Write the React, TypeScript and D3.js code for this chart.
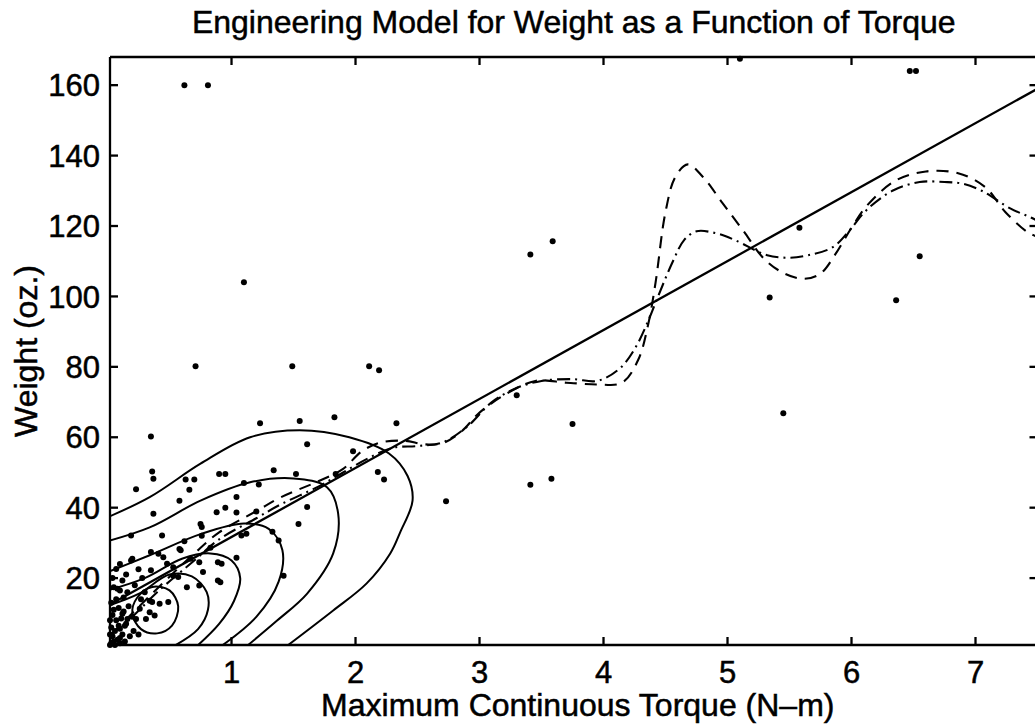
import React from "react";
import * as d3 from "d3";

const W = 1035;
const H = 728;

const titleText = "Engineering Model for Weight as a Function of Torque";
const xLabel = "Maximum Continuous Torque (N\u2013m)";
const yLabel = "Weight (oz.)";

const xTicks = [1, 2, 3, 4, 5, 6, 7];
const yTicks = [20, 40, 60, 80, 100, 120, 140, 160];

// linear engineering model
const linearFit: [number, number][] = [
  [0.02, 12.5],
  [7.5, 159],
];

// dashed nonparametric fit
const dashedFit: [number, number][] = [
  [0.03, 4], [0.2, 10], [0.4, 17], [0.7, 27], [0.9, 33], [1.2, 39], [1.4, 43], [1.7, 47.5],
  [1.9, 51], [2.05, 56], [2.2, 58.5], [2.4, 59], [2.55, 58], [2.7, 58.3], [2.85, 61.5],
  [3.0, 67], [3.2, 72], [3.45, 76], [3.7, 75.5], [3.95, 75], [4.15, 75.5], [4.28, 82],
  [4.36, 92], [4.42, 104], [4.5, 124], [4.58, 134], [4.68, 137.5], [4.8, 134], [4.96, 126.5],
  [5.12, 119], [5.3, 110.5], [5.46, 106.5], [5.62, 105], [5.75, 106.5], [5.87, 112],
  [6.0, 119.5], [6.13, 126], [6.36, 133], [6.6, 135.5], [6.86, 135], [7.08, 131],
  [7.24, 124], [7.43, 118], [7.5, 117],
];

// dash-dot nonparametric fit
const dashDotFit: [number, number][] = [
  [0.03, 4], [0.2, 9], [0.4, 16], [0.7, 25], [0.9, 31], [1.2, 37], [1.4, 41], [1.7, 46],
  [1.9, 50], [2.1, 54], [2.3, 57], [2.5, 57.5], [2.7, 58.5], [2.9, 63], [3.1, 70], [3.3, 74],
  [3.5, 76], [3.75, 76.5], [3.95, 76], [4.13, 79.5], [4.25, 85], [4.36, 93], [4.44, 100],
  [4.56, 110], [4.65, 116], [4.75, 118.5], [4.9, 118], [5.06, 116], [5.32, 111.7], [5.5, 111],
  [5.65, 111.7], [5.85, 114], [5.99, 119], [6.12, 124.5], [6.33, 130], [6.55, 132.5],
  [6.75, 132.5], [6.9, 132], [7.05, 130], [7.28, 125], [7.44, 122.5], [7.5, 121.5],
];

// density contours (open, cut by the axes)
const contour1: [number, number][] = [
  [-0.05, 36.5], [0.34, 43], [0.75, 52.5], [1.15, 60], [1.55, 62], [1.95, 60], [2.27, 55.4],
  [2.42, 49], [2.46, 42], [2.36, 33], [2.28, 27], [2.09, 18.5], [1.82, 10.8], [1.42, 0],
];
const contour2: [number, number][] = [
  [-0.05, 30], [0.34, 34.4], [0.75, 42], [1.15, 47.2], [1.5, 48.3], [1.77, 45.8], [1.86, 38.3],
  [1.82, 27], [1.61, 15.6], [1.37, 8], [1.1, 0],
];
const contour3: [number, number][] = [
  [-0.05, 21], [0.34, 26.5], [0.75, 32.5], [1.1, 35.5], [1.3, 34], [1.41, 28], [1.38, 19],
  [1.2, 9], [0.89, 0],
];
const contour4: [number, number][] = [
  [-0.05, 16], [0.3, 20], [0.6, 25.5], [0.83, 27], [1.0, 25], [1.07, 20], [1.02, 13.5],
  [0.9, 7], [0.7, 0],
];
const contour5: [number, number][] = [
  [-0.05, 11.5], [0.25, 15.5], [0.5, 21], [0.68, 20.5], [0.8, 16], [0.81, 11], [0.73, 5.5],
  [0.5, 0],
];
// innermost closed contour
const contour6: [number, number][] = [
  [0.2, 10], [0.24, 14.5], [0.36, 17.5], [0.5, 16.5], [0.57, 12], [0.52, 6.5], [0.4, 4.3],
  [0.27, 5.5],
];

// observed motors (torque, weight)
const motors: [number, number][] = [
  [0.62, 160], [0.81, 160], [5.1, 167.5], [6.47, 164], [6.52, 164],
  [1.1, 104], [3.41, 111.9], [3.59, 115.7], [5.34, 99.7], [5.58, 119.5], [6.55, 111.4],
  [6.36, 98.9], [5.45, 66.8], [3.41, 46.5], [3.58, 48.2], [3.75, 63.8], [3.3, 71.9],
  [2.73, 41.8], [2.33, 64],
  [0.71, 80.2], [1.49, 80.2], [2.11, 80.2], [2.19, 79],
  [1.23, 64], [1.55, 64.6], [1.83, 65.7], [0.35, 60.2], [1.61, 58], [1.98, 56],
  [0.36, 50.3], [0.37, 48.2], [0.63, 48], [0.7, 48], [0.9, 49.6], [0.95, 49.6],
  [1.34, 50.6], [1.52, 49.6], [1.84, 49.6], [2.18, 50.1], [2.23, 48],
  [0.23, 45.2], [0.66, 45.1], [0.58, 42], [1.1, 47], [1.22, 46.6], [1.04, 43],
  [0.88, 38.7], [0.95, 40], [1.04, 38.6], [1.2, 38.9], [1.61, 40.2], [1.54, 35.4],
  [0.37, 38.3], [0.75, 35.4], [0.76, 34.5], [1.33, 33.2], [1.38, 30.7], [1.42, 20.7],
  [1.04, 25.8], [1.12, 32.6], [1.08, 32.1], [0.19, 32.1], [0.44, 32.1], [0.62, 30.5],
  [0.76, 32], [0.58, 28.3], [0.59, 27.9], [0.83, 28.6], [0.89, 24.5], [0.92, 24.1],
  [0.74, 24.5], [0.67, 25.5], [0.53, 23.1], [0.35, 27.4], [0.41, 26.9], [0.45, 25.9],
  [0.19, 25], [0.2, 25.5], [0.07, 22.6], [0.35, 22.2], [0.48, 24.1], [0.53, 20.7],
  [0.57, 20.3], [0.77, 21.7], [0.89, 19.3], [0.91, 18.8], [0.74, 17.9], [0.64, 17.4],
  [0.12, 19.3], [0.05, 17.4], [0.1, 16.5], [0.34, 13.6], [0.36, 13.2], [0.42, 12.7],
  [0.49, 13.2], [0.26, 11.3], [0.34, 10.3], [0.38, 9.4], [0.23, 8.4], [0.31, 8.4],
  [0.12, 9.9], [0.16, 8.4], [0.1, 5.6], [0.14, 6.5],
  [0.03, 1.5], [0.05, 2], [0.04, 3.5], [0.08, 2.5], [0.1, 3], [0.06, 5], [0.03, 6],
  [0.09, 6.5], [0.12, 4], [0.07, 8], [0.04, 9.5], [0.11, 8.5], [0.15, 7], [0.05, 11],
  [0.09, 11.5], [0.13, 10.5], [0.03, 13], [0.07, 14], [0.17, 12], [0.2, 9], [0.02, 1],
  [0.06, 1], [0.1, 1.5], [0.14, 2], [0.18, 3.5], [0.21, 5], [0.25, 4], [0.02, 4],
  [0.02, 8], [0.13, 14.5], [0.16, 16], [0.08, 17], [0.27, 14], [0.22, 18], [0.15, 21],
  [0.28, 20], [0.3, 16], [0.04, 20], [0.1, 24], [0.25, 22.5],
];

const FONT = "'Liberation Sans', Arial, Helvetica, sans-serif";

export default function App() {
  const left = 110;
  const right = 1037.5;
  const top = 57;
  const bottom = 645;

  const x = d3.scaleLinear().domain([0.02, 7.5]).range([left, right]);
  const y = d3.scaleLinear().domain([1, 168]).range([bottom, top]);

  const smooth = d3
    .line<[number, number]>()
    .x((d) => x(d[0]))
    .y((d) => y(d[1]))
    .curve(d3.curveCatmullRom.alpha(0.5));
  const straight = d3
    .line<[number, number]>()
    .x((d) => x(d[0]))
    .y((d) => y(d[1]));
  const closed = d3
    .line<[number, number]>()
    .x((d) => x(d[0]))
    .y((d) => y(d[1]))
    .curve(d3.curveCatmullRomClosed.alpha(0.5));

  const contours = [contour1, contour2, contour3, contour4, contour5];
  const tick = 8;
  const textStroke = { stroke: "#000", strokeWidth: 0.5 };

  return (
    <svg
      width={W}
      height={H}
      style={{ position: "absolute", left: 0, top: 0, background: "#fff" }}
      fontFamily={FONT}
    >
      <defs>
        <clipPath id="plot">
          <rect x={left} y={top} width={right - left} height={bottom - top} />
        </clipPath>
      </defs>
      <rect x={0} y={0} width={W} height={H} fill="#fff" />

      <g clipPath="url(#plot)" fill="none" stroke="#000" strokeLinejoin="round">
        {contours.map((c, i) => (
          <path key={i} d={smooth(c) || ""} strokeWidth={2} />
        ))}
        <path d={closed(contour6) || ""} strokeWidth={2} />
        <path d={straight(linearFit) || ""} strokeWidth={2.3} />
        <path d={smooth(dashedFit) || ""} strokeWidth={2.1} strokeDasharray="12 8" />
        <path d={smooth(dashDotFit) || ""} strokeWidth={2.1} strokeDasharray="13 5 2 5" />
      </g>

      <g fill="#000">
        {motors.map((d, i) => (
          <circle key={i} cx={x(d[0])} cy={y(d[1])} r={3} />
        ))}
      </g>

      {/* axes box */}
      <g stroke="#000" strokeWidth={2.3} fill="none">
        <line x1={left} y1={top} x2={right} y2={top} />
        <line x1={left} y1={bottom} x2={right} y2={bottom} />
        <line x1={left} y1={top} x2={left} y2={bottom} />
        <line x1={right} y1={top} x2={right} y2={bottom} />
        {xTicks.map((t) => (
          <g key={"xt" + t}>
            <line x1={x(t)} x2={x(t)} y1={bottom} y2={bottom - tick} />
            <line x1={x(t)} x2={x(t)} y1={top} y2={top + tick} />
          </g>
        ))}
        {yTicks.map((t) => (
          <g key={"yt" + t}>
            <line x1={left} x2={left + tick} y1={y(t)} y2={y(t)} />
            <line x1={right} x2={right - tick} y1={y(t)} y2={y(t)} />
          </g>
        ))}
      </g>

      <g fontSize={31} fill="#000" {...textStroke}>
        {xTicks.map((t) => (
          <text key={"xl" + t} x={x(t)} y={683} textAnchor="middle">
            {t}
          </text>
        ))}
        {yTicks.map((t) => (
          <text key={"yl" + t} x={left - 10} y={y(t)} dy="0.36em" textAnchor="end">
            {t}
          </text>
        ))}
      </g>

      <text
        x={(left + right) / 2}
        y={33}
        fontSize={32}
        textAnchor="middle"
        fill="#000"
        {...textStroke}
      >
        {titleText}
      </text>
      <text
        x={(left + right) / 2 + 4}
        y={716}
        fontSize={32}
        textAnchor="middle"
        fill="#000"
        {...textStroke}
      >
        {xLabel}
      </text>
      <text
        transform={`translate(37, ${(top + bottom) / 2}) rotate(-90)`}
        fontSize={32}
        textAnchor="middle"
        fill="#000"
        {...textStroke}
      >
        {yLabel}
      </text>
    </svg>
  );
}
